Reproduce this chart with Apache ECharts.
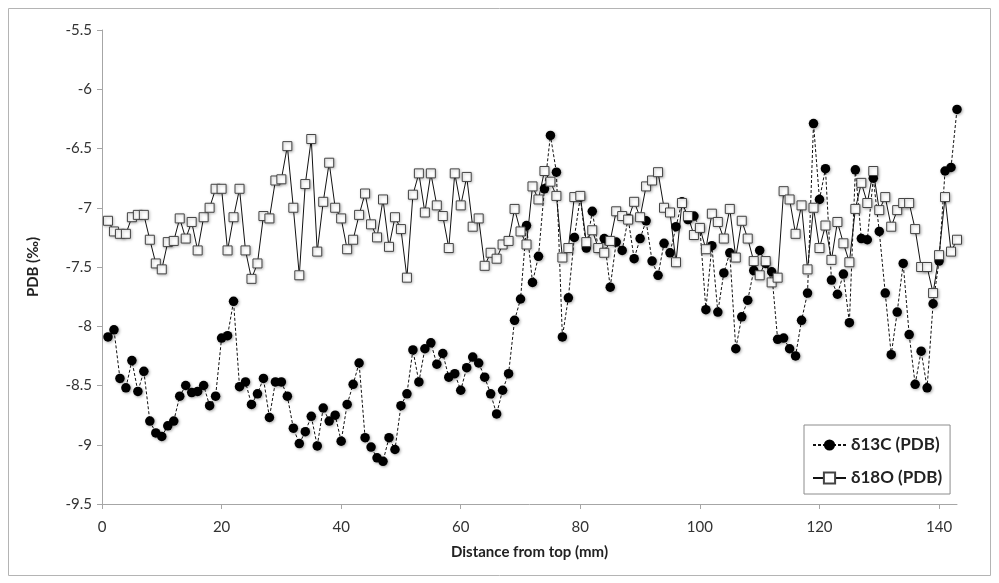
<!DOCTYPE html>
<html><head><meta charset="utf-8">
<script src="https://cdn.jsdelivr.net/npm/echarts@6/dist/echarts.min.js"></script>
<style>html,body{margin:0;padding:0;background:#fff}#c{width:999px;height:583px}</style>
</head><body><div id="c"></div>
<script>
const distance = [1,2,3,4,5,6,7,8,9,10,11,12,13,14,15,16,17,18,19,20,21,22,23,24,25,26,27,28,29,30,31,32,33,34,35,36,37,38,39,40,41,42,43,44,45,46,47,48,49,50,51,52,53,54,55,56,57,58,59,60,61,62,63,64,65,66,67,68,69,70,71,72,73,74,75,76,77,78,79,80,81,82,83,84,85,86,87,88,89,90,91,92,93,94,95,96,97,98,99,100,101,102,103,104,105,106,107,108,109,110,111,112,113,114,115,116,117,118,119,120,121,122,123,124,125,126,127,128,129,130,131,132,133,134,135,136,137,138,139,140,141,142,143];

const d13C = [-8.09,-8.03,-8.44,-8.52,-8.29,-8.55,-8.38,-8.80,-8.90,-8.93,-8.84,-8.80,-8.59,-8.50,-8.56,-8.55,-8.50,-8.67,-8.59,-8.10,
-8.08,-7.79,-8.51,-8.47,-8.66,-8.57,-8.44,-8.77,-8.47,-8.47,-8.59,-8.86,-8.99,-8.89,-8.76,-9.01,-8.69,-8.80,-8.75,-8.97,
-8.66,-8.49,-8.31,-8.94,-9.02,-9.11,-9.14,-8.94,-9.04,-8.67,-8.57,-8.20,-8.47,-8.19,-8.14,-8.32,-8.23,-8.43,-8.40,-8.54,
-8.35,-8.26,-8.31,-8.43,-8.57,-8.74,-8.54,-8.40,-7.95,-7.77,-7.15,-7.63,-7.41,-6.84,-6.39,-6.70,-8.09,-7.76,-7.25,-6.91,
-7.34,-7.03,-7.34,-7.26,-7.67,-7.29,-7.36,-7.09,-7.43,-7.26,-7.11,-7.45,-7.57,-7.30,-7.38,-7.16,-6.95,-7.10,-7.07,-7.17,
-7.86,-7.32,-7.88,-7.55,-7.38,-8.19,-7.92,-7.78,-7.53,-7.36,-7.47,-7.54,-8.11,-8.10,-8.19,-8.25,-7.95,-7.72,-6.29,-6.93,
-6.67,-7.61,-7.73,-7.56,-7.97,-6.68,-7.26,-7.27,-6.75,-7.20,-7.72,-8.24,-7.88,-7.47,-8.07,-8.49,-8.21,-8.52,-7.81,-7.45,
-6.69,-6.66,-6.17];

const d18O = [-7.11,-7.20,-7.22,-7.22,-7.08,-7.06,-7.06,-7.27,-7.47,-7.52,-7.29,-7.28,-7.09,-7.26,-7.12,-7.36,-7.08,-7.00,-6.84,-6.84,
-7.36,-7.08,-6.84,-7.36,-7.60,-7.47,-7.07,-7.09,-6.77,-6.76,-6.48,-7.00,-7.57,-6.80,-6.42,-7.37,-6.95,-6.62,-7.00,-7.09,
-7.35,-7.27,-7.06,-6.88,-7.14,-7.25,-6.93,-7.33,-7.08,-7.18,-7.59,-6.89,-6.71,-7.04,-6.71,-6.98,-7.07,-7.34,-6.71,-6.98,
-6.74,-7.16,-7.09,-7.49,-7.38,-7.43,-7.31,-7.28,-7.01,-7.20,-7.31,-6.82,-6.93,-6.69,-6.78,-6.90,-7.42,-7.34,-6.91,-6.90,
-7.29,-7.19,-7.34,-7.38,-7.28,-7.03,-7.07,-7.10,-6.95,-7.08,-6.82,-6.77,-6.70,-7.00,-7.04,-7.46,-6.96,-7.07,-7.23,-7.17,
-7.35,-7.05,-7.12,-7.26,-7.01,-7.42,-7.11,-7.26,-7.45,-7.57,-7.45,-7.63,-7.59,-6.86,-6.93,-7.22,-6.98,-7.52,-7.00,-7.34,
-7.15,-7.44,-7.12,-7.30,-7.46,-7.01,-6.79,-6.96,-6.69,-7.02,-6.91,-7.16,-7.02,-6.96,-6.96,-7.18,-7.50,-7.50,-7.72,-7.40,
-6.91,-7.37,-7.27];

const xTicks = [0,20,40,60,80,100,120,140];
const yTicks = [-9.5,-9,-8.5,-8,-7.5,-7,-6.5,-6,-5.5];
const seriesNames = ['δ13C (PDB)','δ18O (PDB)'];
const xTitle = 'Distance from top (mm)';
const yTitle = 'PDB (‰)';

const pairs = (ys) => distance.map((x, i) => [x, ys[i]]);
const FONT = 'Lato, "Open Sans", sans-serif';
const axisColor = '#a6a6a6';

const chart = echarts.init(document.getElementById('c'), null, {renderer: 'canvas'});
chart.setOption({
  animation: false,
  backgroundColor: '#fff',
  graphic: [{
    type: 'rect', silent: true,
    shape: {x: 8.5, y: 8.5, width: 982, height: 567},
    style: {fill: 'none', stroke: '#b4b4b4', lineWidth: 1}
  }],
  grid: {left: 102, top: 30, width: 855, height: 474, containLabel: false},
  legend: {
    orient: 'vertical',
    left: 804, top: 425,
    padding: [10, 8, 6, 8],
    itemGap: 13,
    itemWidth: 33, itemHeight: 14,
    borderColor: '#8c8c8c', borderWidth: 1,
    backgroundColor: '#fff',
    textStyle: {fontFamily: FONT, fontWeight: 'bold', fontSize: 17, color: '#222', lineHeight: 20},
    data: seriesNames
  },
  xAxis: {
    type: 'value', min: 0, max: 143, interval: 20,
    name: xTitle, nameLocation: 'middle', nameGap: 41,
    nameTextStyle: {fontFamily: FONT, fontWeight: 'bold', fontSize: 15, color: '#222'},
    axisLine: {show: true, lineStyle: {color: axisColor, width: 1}},
    axisTick: {show: true, length: 5, lineStyle: {color: axisColor}, customValues: xTicks},
    axisLabel: {fontFamily: FONT, fontSize: 15, color: '#333', margin: 16, customValues: xTicks},
    splitLine: {show: false}
  },
  yAxis: {
    type: 'value', min: -9.5, max: -5.5, interval: 0.5,
    name: yTitle, nameLocation: 'middle', nameGap: 61, nameRotate: 90,
    nameTextStyle: {fontFamily: FONT, fontWeight: 'bold', fontSize: 15, color: '#222'},
    axisLine: {show: true, lineStyle: {color: axisColor, width: 1}},
    axisTick: {show: true, length: 5, lineStyle: {color: axisColor}, customValues: yTicks},
    axisLabel: {fontFamily: FONT, fontSize: 15, color: '#333', margin: 10, customValues: yTicks},
    splitLine: {show: false}
  },
  series: [{
    name: seriesNames[0], type: 'line',
    data: pairs(d13C),
    symbol: 'circle', symbolSize: 9.5,
    itemStyle: {color: '#000', shadowBlur: 3, shadowColor: 'rgba(0,0,0,0.35)', shadowOffsetX: 1, shadowOffsetY: 1},
    lineStyle: {color: '#111', width: 1, type: [3, 2]},
    emphasis: {disabled: true}
  }, {
    name: seriesNames[1], type: 'line',
    data: pairs(d18O),
    symbol: 'rect', symbolSize: 9,
    itemStyle: {color: '#fff', borderColor: '#444', borderWidth: 1, shadowBlur: 3, shadowColor: 'rgba(0,0,0,0.3)', shadowOffsetX: 1, shadowOffsetY: 1},
    lineStyle: {color: '#111', width: 1},
    emphasis: {disabled: true}
  }]
});
</script></body></html>
